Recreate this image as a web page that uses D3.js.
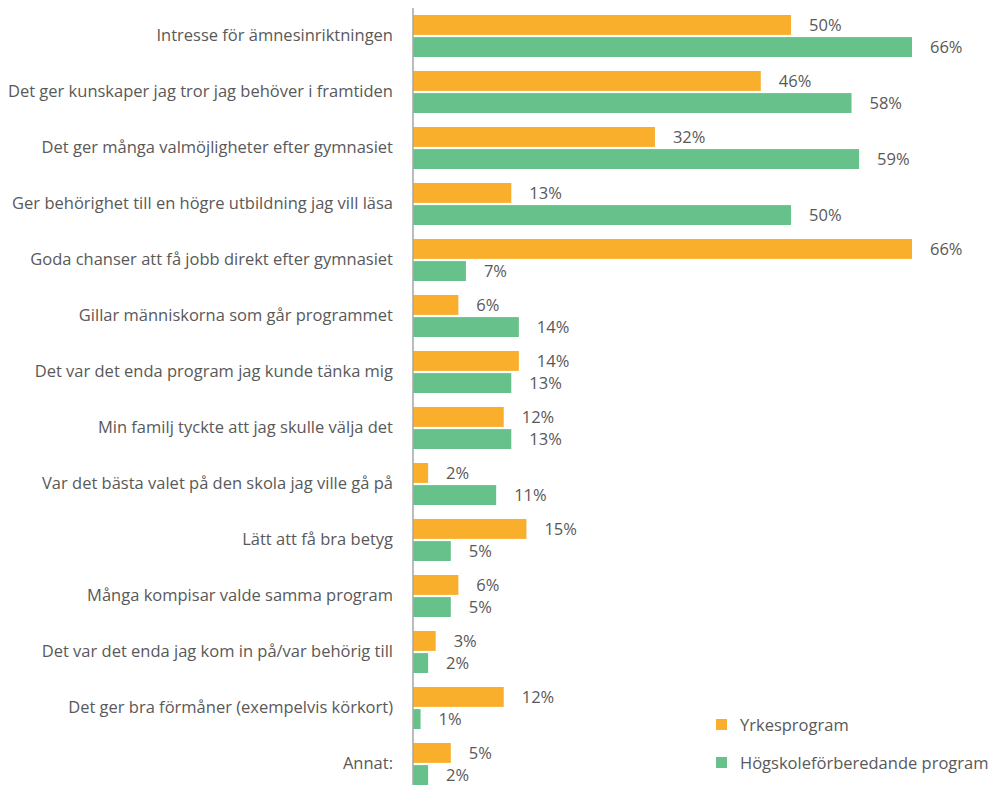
<!DOCTYPE html>
<html>
<head>
<meta charset="utf-8">
<script src="https://cdn.jsdelivr.net/npm/d3@7"></script>
<style>
  body { margin: 0; background: #fff; }
  svg text { font-family: "Open Sans", sans-serif; fill: #595959; }
</style>
</head>
<body>
<div id="chart"></div>
<script>
const categories = [
  'Intresse för ämnesinriktningen',
  'Det ger kunskaper jag tror jag behöver i framtiden',
  'Det ger många valmöjligheter efter gymnasiet',
  'Ger behörighet till en högre utbildning jag vill läsa',
  'Goda chanser att få jobb direkt efter gymnasiet',
  'Gillar människorna som går programmet',
  'Det var det enda program jag kunde tänka mig',
  'Min familj tyckte att jag skulle välja det',
  'Var det bästa valet på den skola jag ville gå på',
  'Lätt att få bra betyg',
  'Många kompisar valde samma program',
  'Det var det enda jag kom in på/var behörig till',
  'Det ger bra förmåner (exempelvis körkort)',
  'Annat:'
];
const seriesNames = ['Yrkesprogram', 'Högskoleförberedande program'];
const yrkes = [50, 46, 32, 13, 66, 6, 14, 12, 2, 15, 6, 3, 12, 5];
const hogskole = [66, 58, 59, 50, 7, 14, 13, 13, 11, 5, 5, 2, 1, 2];
const colors = ['#F9AE2C', '#66C18B'];

const width = 990, height = 785;
const margin = { top: 8, left: 413 };
const fontSize = '16.5px';

const rows = categories.map((c, i) => ({ cat: c, values: [yrkes[i], hogskole[i]] }));

const svg = d3.select('#chart').append('svg')
  .attr('width', width).attr('height', height);

const x = d3.scaleLinear().domain([0, 66]).range([margin.left, 912]);
const y = d3.scaleBand().domain(categories).range([margin.top, margin.top + 56 * 14])
  .paddingInner(0.25).paddingOuter(0.125);
const ySub = d3.scaleBand().domain([0, 1]).range([0, y.bandwidth()]).paddingInner(0.1);

// Bars
const groups = svg.selectAll('.grp')
  .data(rows)
  .join('g')
  .attr('class', 'grp')
  .attr('transform', d => `translate(0,${y(d.cat)})`);

groups.selectAll('rect')
  .data(d => d.values.map((v, k) => ({ v, k })))
  .join('rect')
  .attr('x', x(0))
  .attr('y', d => ySub(d.k))
  .attr('width', d => x(d.v) - x(0))
  .attr('height', ySub.bandwidth())
  .attr('fill', d => colors[d.k]);

groups.selectAll('text.val')
  .data(d => d.values.map((v, k) => ({ v, k })))
  .join('text')
  .attr('class', 'val')
  .attr('x', d => x(d.v) + 18)
  .attr('y', d => ySub(d.k) + ySub.bandwidth() / 2)
  .attr('dy', '0.35em')
  .style('font-size', fontSize)
  .text(d => `${d.v}%`);

// Category axis
const axis = svg.append('g')
  .attr('transform', `translate(${x(0)},0)`)
  .call(d3.axisLeft(y).tickSize(0).tickPadding(20));
axis.select('.domain')
  .attr('d', `M0,${margin.top}V${height}`)
  .attr('stroke', '#a6a6a6')
  .attr('stroke-width', 1.5);
axis.selectAll('text')
  .style('font-size', fontSize)
  .style('font-family', '"Open Sans", sans-serif')
  .attr('fill', '#595959');

// Legend
const legend = svg.append('g').attr('transform', 'translate(716,719)');
seriesNames.forEach((s, i) => {
  const item = legend.append('g').attr('transform', `translate(0,${i * 38})`);
  item.append('rect').attr('width', 11).attr('height', 11).attr('fill', colors[i]);
  item.append('text').attr('x', 24).attr('y', 6).attr('dy', '0.35em')
    .style('font-size', fontSize).text(s);
});
</script>
</body>
</html>
